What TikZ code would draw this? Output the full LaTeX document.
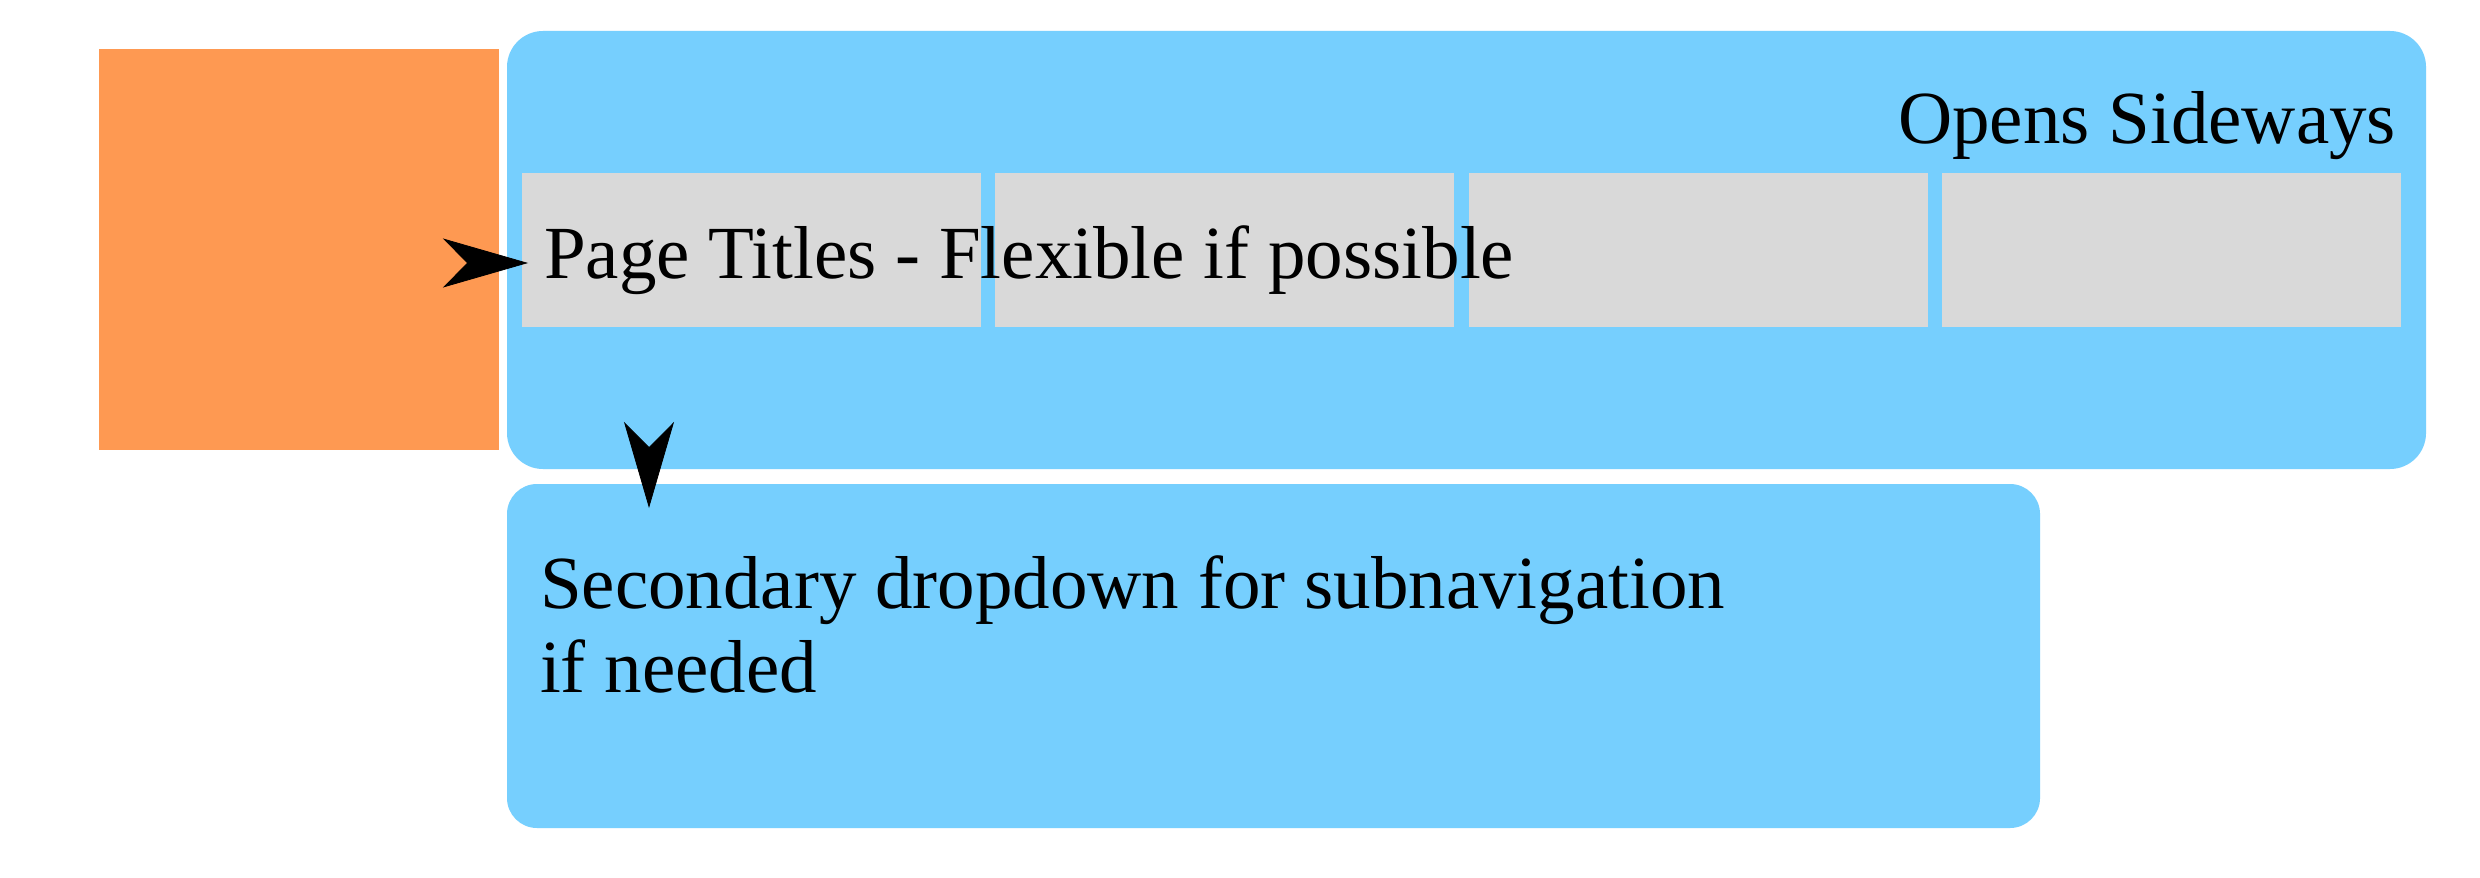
\documentclass[tikz,border=0pt]{standalone}
\usepackage{fontspec}
\setmainfont{Liberation Serif}
\usetikzlibrary{arrows.meta}
\definecolor{boxblue}{RGB}{118,207,254}
\definecolor{navorange}{RGB}{254,153,82}
\definecolor{cellgrey}{RGB}{217,217,217}
\begin{document}
\begin{tikzpicture}[x=0.25pt,y=-0.25pt,
  plain/.style={inner sep=0pt,outer sep=0pt,anchor=north west,draw=none},
  cell/.style={plain,fill=cellgrey,minimum width=114.75pt,minimum height=38.5pt},
  label/.style={inner sep=0pt,outer sep=0pt,font=\fontsize{18.75pt}{21pt}\selectfont,text=black},
  pointer/.style={line width=0.2pt,-{Stealth[length=21.25pt,width=12.25pt,inset=6pt]}}]
\useasboundingbox (0,0) rectangle (2480,877);
\fill[white] (0,0) rectangle (2480,877);
% boxes
\node[plain,fill=navorange,minimum width=100pt,minimum height=100.25pt] (orange) at (99,49) {};
\node[plain,fill=boxblue,rounded corners=9pt,minimum width=479.75pt,minimum height=109.5pt] (main) at (507,31) {};
\node[cell] (g1) at (522,173) {};
\node[cell] (g2) at (995,173) {};
\node[cell] (g3) at (1469,173) {};
\node[cell] (g4) at (1942,173) {};
\node[plain,fill=boxblue,rounded corners=7.5pt,minimum width=383.25pt,minimum height=86pt] (sec) at (507,484) {};
% texts
\node[label,anchor=base east] (opens) at (2396,144) {Opens Sideways};
\node[label,anchor=base west] (ptitle) at (544,278) {Page Titles - Flexible if possible};
\node[label,anchor=base west,align=left] (sectext) at (540,692) {Secondary dropdown for subnavigation\\if needed};
% arrows
\coordinate (r0) at (468,263);
\coordinate (r1) at (528,263);
\coordinate (d0) at (649,447);
\coordinate (d1) at (649,508);
\draw[pointer] (r0) -- (r1);
\draw[pointer,-{Stealth[length=21.5pt,width=12.5pt,inset=6.25pt]}] (d0) -- (d1);
\end{tikzpicture}
\end{document}
